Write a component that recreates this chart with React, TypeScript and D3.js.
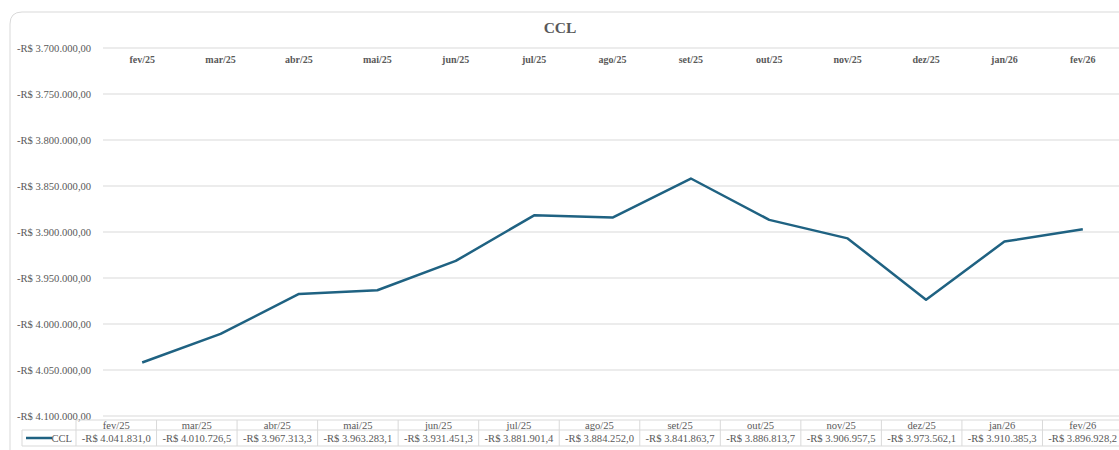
import React from "react";
import * as d3 from "d3";

const months = ["fev/25", "mar/25", "abr/25", "mai/25", "jun/25", "jul/25", "ago/25", "set/25", "out/25", "nov/25", "dez/25", "jan/26", "fev/26"];
const cclValues = [-4041831.0, -4010726.5, -3967313.3, -3963283.1, -3931451.3, -3881901.4, -3884252.0, -3841863.7, -3886813.7, -3906957.5, -3973562.1, -3910385.3, -3896928.2];
const yTicks = [-3700000, -3750000, -3800000, -3850000, -3900000, -3950000, -4000000, -4050000, -4100000];
const seriesName = "CCL";

const width = 1119;
const height = 450;
const lineColor = "#1f6282";
const textColor = "#595959";
const gridColor = "#d9d9d9";
const font = "'Liberation Serif', 'Times New Roman', serif";

const locale = d3.formatLocale({
  decimal: ",",
  thousands: ".",
  grouping: [3],
  currency: ["R$ ", ""],
  minus: "-",
});
const fmtAxis = locale.format("$,.2f");
const fmtTable = locale.format("$,.1f");

const x = d3.scaleBand().domain(months).range([103, 1122]);
const y = d3.scaleLinear().domain([-3700000, -4100000]).range([48, 416]);
const tableX = d3.scaleBand().domain(months).range([76, 1123]);

const line = d3
  .line<number>()
  .x((_, i) => x(months[i])! + x.bandwidth() / 2)
  .y((d) => y(d));

const headTop = 420;
const rowMid = 430;
const rowBottom = 446;

export default function App() {
  return (
    <div style={{ position: "fixed", left: 0, top: 0 }}>
      <svg width={width} height={height} style={{ display: "block", background: "#fff" }} fontFamily={font}>
        <path d={`M10,${height + 10} V24 Q10,12 22,12 H${width + 10}`} fill="none" stroke={gridColor} strokeWidth={1} />
        <text x={560} y={33} textAnchor="middle" fontSize={15.5} fontWeight="bold" fill={textColor}>
          CCL
        </text>
        {yTicks.map((t) => (
          <g key={t}>
            <line x1={103} x2={width} y1={y(t)} y2={y(t)} stroke={gridColor} strokeWidth={1} />
            <text x={17} y={y(t) + 3.5} fontSize={10.6} fill={textColor}>
              {fmtAxis(t)}
            </text>
          </g>
        ))}
        {months.map((m) => (
          <text key={m} x={x(m)! + x.bandwidth() / 2} y={63} textAnchor="middle" fontSize={10} fontWeight="bold" fill={textColor}>
            {m}
          </text>
        ))}
        <path d={line(cclValues) ?? ""} fill="none" stroke={lineColor} strokeWidth={2.5} strokeLinejoin="round" />

        {/* data table */}
        <g stroke={gridColor} strokeWidth={1}>
          <line x1={76} x2={width} y1={headTop} y2={headTop} />
          <line x1={22} x2={width} y1={rowMid} y2={rowMid} />
          <line x1={22} x2={width} y1={rowBottom} y2={rowBottom} />
          <line x1={22} x2={22} y1={rowMid} y2={rowBottom} />
          {months.map((m) => (
            <line key={m} x1={tableX(m)!} x2={tableX(m)!} y1={headTop} y2={rowBottom} />
          ))}
        </g>
        <line x1={26} x2={52} y1={438} y2={438} stroke={lineColor} strokeWidth={2.5} />
        <text x={72} y={441.5} textAnchor="end" fontSize={10.6} fill={textColor}>
          {seriesName}
        </text>
        {months.map((m, i) => (
          <g key={m}>
            <text x={tableX(m)! + tableX.bandwidth() / 2} y={428.5} textAnchor="middle" fontSize={10.6} fill={textColor}>
              {m}
            </text>
            <text x={tableX(m)! + tableX.bandwidth() / 2} y={441.5} textAnchor="middle" fontSize={10.6} fill={textColor}>
              {fmtTable(cclValues[i])}
            </text>
          </g>
        ))}
      </svg>
    </div>
  );
}
